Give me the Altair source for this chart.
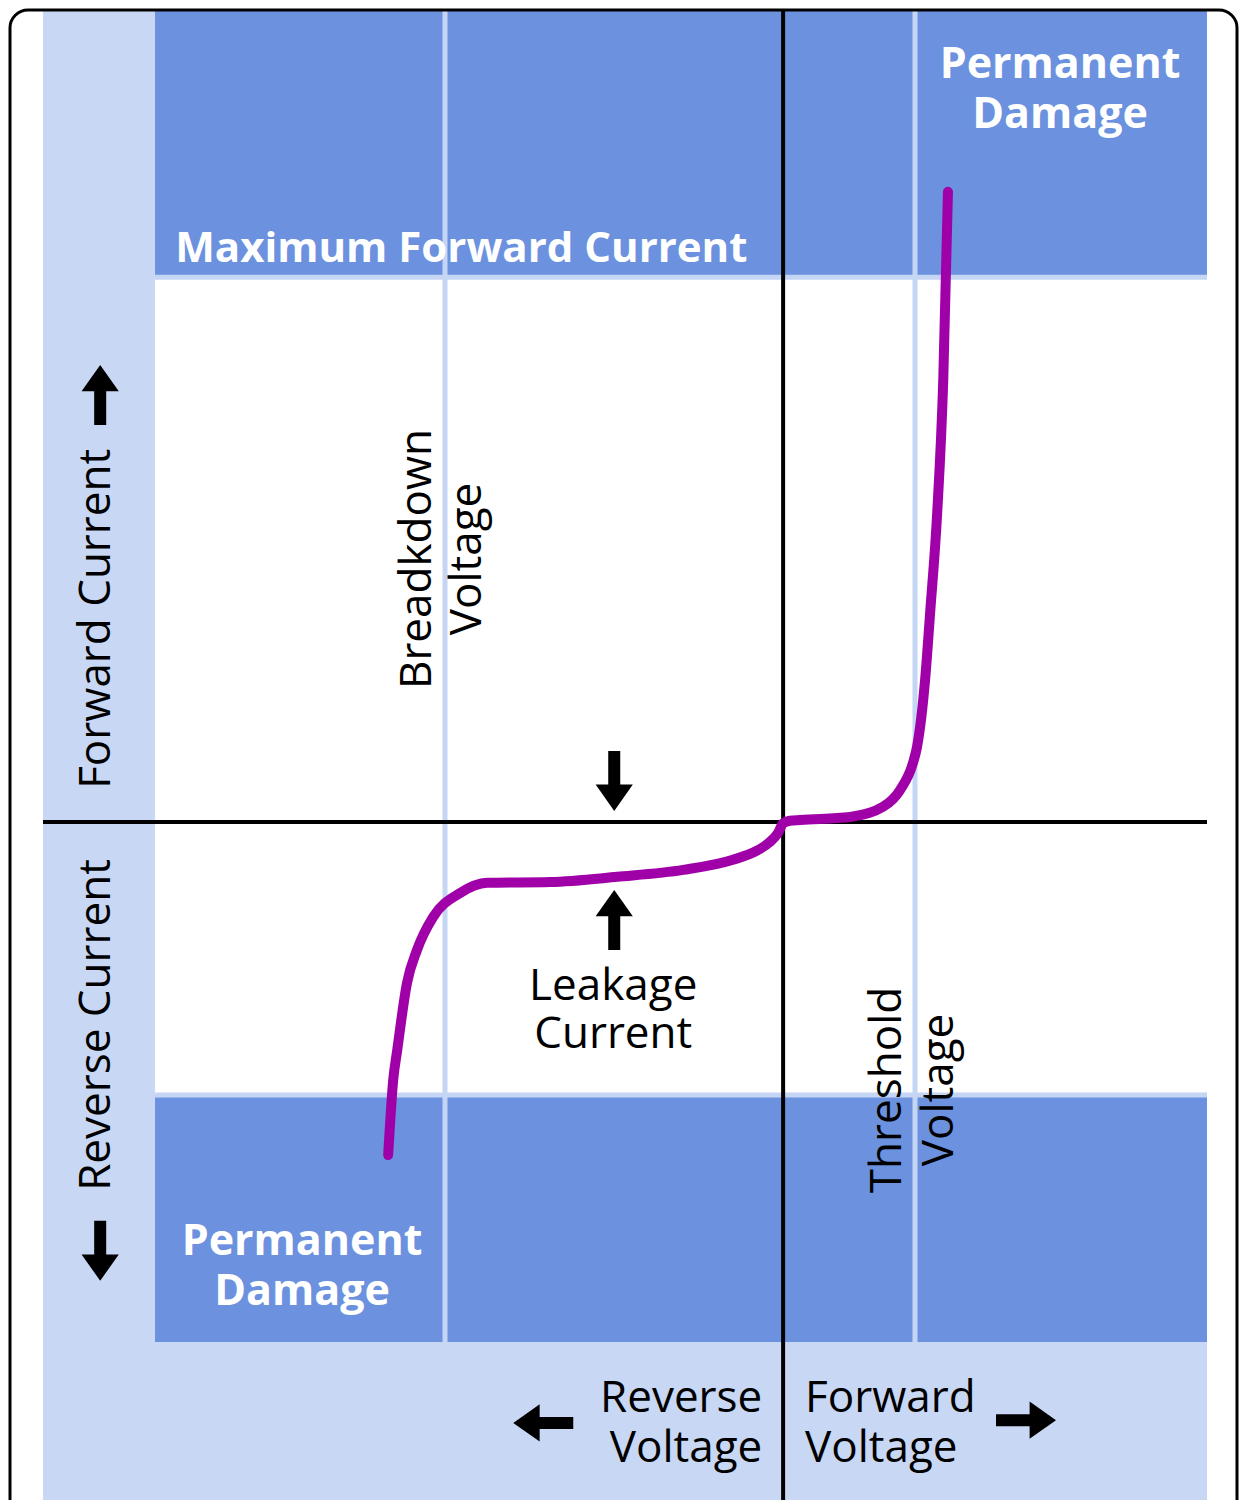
import altair as alt
import pandas as pd

# ---- axis extents (arbitrary voltage / current units) ----
X_MIN, X_MAX = -22.0, 12.6
Y_MIN, Y_MAX = -24.71, 29.55

# ---- diode I-V curve ----
curve_v = [-11.74, -11.59, -11.47, -11.18, -10.88, -10.40, -9.60, -8.80, -6.93, -4.93,
           -2.97, -1.49, -0.78, -0.40, -0.15, 0.0, 0.20, 0.51, 1.99, 2.97, 3.48, 3.86, 3.98,
           4.22, 4.37, 4.58, 4.76, 4.90]
curve_i = [-12.14, -9.40, -8.31, -5.87, -4.66, -3.46, -2.59, -2.22, -2.19, -2.00,
           -1.75, -1.38, -1.05, -0.74, -0.40, -0.05, 0.04, 0.07, 0.18, 0.55, 1.17, 2.15, 2.73,
           5.17, 7.62, 11.26, 16.11, 22.96]

# ---- zones ----
zone_x1 = [-18.67, -18.67, -18.67]
zone_x2 = [X_MAX, X_MAX, X_MAX]
zone_y1 = [19.85, -9.95, -18.95]
zone_y2 = [Y_MAX, 19.85, -9.95]
zone_fill = ["#6B91DF", "#FFFFFF", "#6B91DF"]

# boundaries (breakdown voltage, threshold voltage, current limits)
vgap_x = [-10.05, 3.92]
hgap_y = [19.85, -9.95]

# ---- labels ----
white_c_text = ["Permanent", "Damage", "Permanent", "Damage"]
white_c_x = [8.23, 8.23, -14.30, -14.30]
white_c_y = [27.11, 25.29, -15.78, -17.60]

white_l_text = ["Maximum Forward Current"]
white_l_x = [-18.07]
white_l_y = [20.41]

rot_text = ["Breadkdown", "Voltage", "Threshold", "Voltage", "Forward Current", "Reverse Current"]
rot_x = [-10.85, -9.36, 3.12, 4.67, -20.39, -20.39]
rot_y = [9.58, 9.58, -9.77, -9.77, 7.40, -7.40]

center_text = ["Leakage", "Current"]
center_x = [-5.05, -5.05]
center_y = [-6.49, -8.24]

right_text = ["Reverse", "Voltage"]
right_x = [-0.62, -0.62]
right_y = [-21.50, -23.32]

left_text = ["Forward", "Voltage"]
left_x = [0.65, 0.65]
left_y = [-21.50, -23.32]

# ---- arrows (angle: 0 up, 90 right, 180 down, 270 left) ----
arrow_x = [-20.3, -20.3, -5.02, -5.02, -7.13, 7.22]
arrow_y = [15.56, -15.63, 1.49, -3.57, -21.9, -21.8]
arrow_angle = [0, 180, 180, 0, 270, 90]

xs = alt.Scale(domain=[X_MIN, X_MAX], nice=False, zero=False)
ys = alt.Scale(domain=[Y_MIN, Y_MAX], nice=False, zero=False)

FONT = "Open Sans"
FS = 44

zones = alt.Chart(pd.DataFrame({"x1": zone_x1, "x2": zone_x2, "y1": zone_y1,
                                "y2": zone_y2, "fill": zone_fill})).mark_rect().encode(
    x=alt.X("x1:Q", scale=xs, axis=None), x2="x2:Q",
    y=alt.Y("y1:Q", scale=ys, axis=None), y2="y2:Q",
    color=alt.Color("fill:N", scale=None))

vgaps = alt.Chart(pd.DataFrame({"x": vgap_x, "y1": [-18.95] * 2, "y2": [Y_MAX] * 2})).mark_rule(
    color="#C5D6F5", strokeWidth=5).encode(
    x=alt.X("x:Q", scale=xs, axis=None), y=alt.Y("y1:Q", scale=ys, axis=None), y2="y2:Q")

hgaps = alt.Chart(pd.DataFrame({"y": hgap_y, "x1": [-18.67] * 2, "x2": [X_MAX] * 2})).mark_rule(
    color="#C5D6F5", strokeWidth=5).encode(
    y=alt.Y("y:Q", scale=ys, axis=None), x=alt.X("x1:Q", scale=xs, axis=None), x2="x2:Q")

axis_h = alt.Chart(pd.DataFrame({"y": [0.0], "x1": [X_MIN], "x2": [X_MAX]})).mark_rule(
    color="black", strokeWidth=4).encode(
    y=alt.Y("y:Q", scale=ys, axis=None), x=alt.X("x1:Q", scale=xs, axis=None), x2="x2:Q")

axis_v = alt.Chart(pd.DataFrame({"x": [0.0], "y1": [Y_MIN], "y2": [Y_MAX]})).mark_rule(
    color="black", strokeWidth=4).encode(
    x=alt.X("x:Q", scale=xs, axis=None), y=alt.Y("y1:Q", scale=ys, axis=None), y2="y2:Q")

curve = alt.Chart(pd.DataFrame({"v": curve_v, "i": curve_i, "o": list(range(len(curve_v)))})).mark_line(
    color="#A000A8", strokeWidth=10, strokeCap="round", strokeJoin="round", interpolate="monotone").encode(
    x=alt.X("v:Q", scale=xs, axis=None), y=alt.Y("i:Q", scale=ys, axis=None), order="o:Q")


def text_layer(texts, xv, yv, size=FS, **kw):
    return alt.Chart(pd.DataFrame({"t": texts, "x": xv, "y": yv})).mark_text(
        font=FONT, fontSize=size, **kw).encode(
        x=alt.X("x:Q", scale=xs, axis=None), y=alt.Y("y:Q", scale=ys, axis=None), text="t:N")


t_white_c = text_layer(white_c_text, white_c_x, white_c_y, size=43, color="white", fontWeight="bold",
                       align="center", baseline="alphabetic")
t_white_l = text_layer(white_l_text, white_l_x, white_l_y, size=42, color="white", fontWeight="bold",
                       align="left", baseline="alphabetic")
t_rot = text_layer(rot_text, rot_x, rot_y, color="black", align="center", baseline="middle", angle=270)
t_center = text_layer(center_text, center_x, center_y, color="black", align="center", baseline="alphabetic")
t_right = text_layer(right_text, right_x, right_y, color="black", align="right", baseline="alphabetic")
t_left = text_layer(left_text, left_x, left_y, color="black", align="left", baseline="alphabetic")

ARROW = "M0,-1 L0.62,-0.12 L0.2,-0.12 L0.2,1 L-0.2,1 L-0.2,-0.12 L-0.62,-0.12 Z"
arrows = alt.Chart(pd.DataFrame({"x": arrow_x, "y": arrow_y, "a": arrow_angle})).mark_point(
    shape=ARROW, filled=True, color="black", opacity=1, size=3600, strokeWidth=0).encode(
    x=alt.X("x:Q", scale=xs, axis=None), y=alt.Y("y:Q", scale=ys, axis=None),
    angle=alt.Angle("a:Q", scale=None))

border = alt.Chart(pd.DataFrame({"k": [0]})).mark_rect(
    fill="white", fillOpacity=0, stroke="black", strokeWidth=3, cornerRadius=18, clip=False).encode(
    x=alt.value(-33), x2=alt.value(1194), y=alt.value(-1), y2=alt.value(1600))

chart = alt.layer(zones, vgaps, hgaps, axis_h, axis_v, curve,
                  t_white_c, t_white_l, t_rot, t_center, t_right, t_left, arrows, border).properties(
    width=1164, height=1489,
    autosize=alt.AutoSizeParams(type="none"),
    padding={"left": 35, "top": 3, "right": 32, "bottom": 0},
    background="white",
).configure_view(fill="#C8D7F3", stroke=None)

chart.save("out.html", embed_options={"renderer": "svg", "actions": False})
